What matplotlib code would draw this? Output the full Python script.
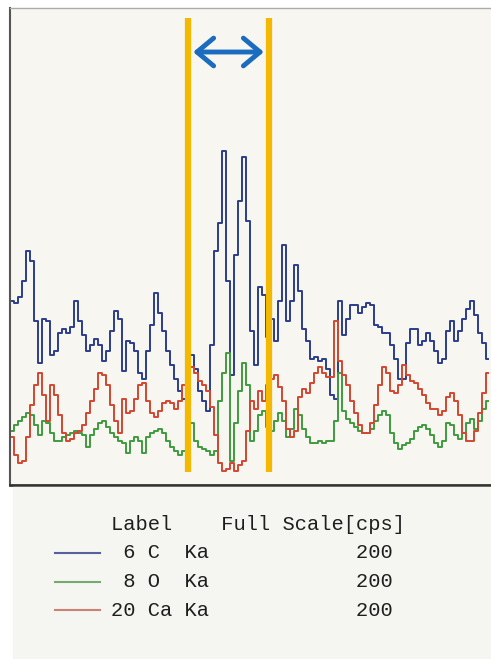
import numpy as np
import matplotlib
matplotlib.use("Agg")
import matplotlib.pyplot as plt
from matplotlib.patches import FancyArrowPatch, Rectangle
from matplotlib.lines import Line2D

# line scan, counts per point (120 points)
c_ka = [92, 91, 94, 102, 117, 112, 82, 61, 83, 82, 65, 67, 76, 78, 76, 79, 92, 82, 75, 67,
        70, 73, 70, 62, 67, 77, 87, 83, 57, 72, 71, 67, 56, 53, 67, 80, 96, 86, 77, 67,
        60, 53, 47, 43, 62, 65, 58, 47, 42, 37, 70, 117, 131, 167, 102, 55, 115, 142, 164, 132,
        77, 60, 99, 95, 74, 83, 72, 92, 120, 82, 92, 110, 97, 78, 72, 63, 64, 62, 63, 58,
        45, 43, 92, 75, 83, 90, 90, 86, 89, 91, 90, 80, 79, 76, 76, 70, 63, 53, 53, 71,
        78, 78, 70, 72, 76, 72, 67, 61, 63, 77, 82, 72, 77, 83, 88, 92, 85, 76, 71, 63]
o_ka = [27, 30, 32, 34, 36, 35, 30, 25, 32, 31, 26, 22, 22, 24, 25, 26, 27, 26, 25, 19,
        25, 28, 31, 32, 29, 26, 24, 22, 21, 16, 22, 24, 22, 16, 24, 26, 27, 28, 26, 22,
        19, 17, 15, 17, 26, 31, 22, 19, 18, 17, 15, 17, 42, 56, 66, 12, 31, 47, 61, 50,
        22, 27, 35, 37, 29, 27, 32, 36, 32, 24, 28, 38, 35, 28, 24, 21, 21, 22, 21, 22,
        22, 32, 56, 37, 33, 31, 29, 27, 26, 26, 28, 32, 35, 37, 35, 26, 21, 18, 20, 21,
        23, 27, 29, 30, 28, 25, 21, 19, 22, 31, 30, 25, 23, 26, 31, 33, 28, 32, 38, 42]
ca_ka = [24, 15, 11, 12, 24, 40, 50, 56, 45, 32, 50, 45, 35, 26, 22, 23, 26, 27, 30, 36,
         42, 48, 56, 55, 50, 40, 32, 26, 43, 36, 37, 43, 50, 51, 42, 36, 34, 37, 41, 42,
         41, 38, 42, 50, 56, 59, 56, 52, 50, 47, 39, 25, 11, 7, 8, 11, 7, 10, 12, 27,
         42, 38, 47, 42, 50, 53, 55, 49, 42, 28, 24, 27, 44, 48, 46, 51, 56, 59, 56, 54,
         54, 82, 62, 55, 50, 42, 36, 30, 26, 26, 31, 40, 50, 59, 56, 47, 46, 50, 60, 55,
         52, 51, 48, 45, 41, 38, 38, 35, 37, 44, 46, 42, 35, 26, 22, 22, 27, 36, 46, 56]

labels = [" 6 C  Ka", " 8 O  Ka", "20 Ca Ka"]
full_scale = [200, 200, 200]
colors = ["#2b3d8c", "#3f9a3f", "#d2472f"]
legend_colors = ["#56619c", "#74ab74", "#c98274"]

# marked region (scan index)
region = [44, 64.25]

fig = plt.figure(figsize=(4.91, 6.59), dpi=100)
W, H = 491, 659

# legend panel background
fig.patches.append(Rectangle((13 / W, 0), 1, (H - 487) / H, transform=fig.transFigure,
                             color="#f5f5f1", zorder=0))

ax = fig.add_axes([10 / W, (H - 485) / H, 481 / W, 477 / H])
ax.set_facecolor("#f7f6f1")

for data, col in zip([c_ka, o_ka, ca_ka], colors):
    ax.plot(np.arange(len(data)), data, drawstyle="steps-mid", color=col, lw=1.4)

ax.set_xlim(-0.5, 119.75)
ax.set_ylim(0, 238.5)
ax.set_xticks([])
ax.set_yticks([])
ax.spines["right"].set_visible(False)
ax.spines["left"].set_color("#555555")
ax.spines["left"].set_linewidth(1.5)
ax.spines["bottom"].set_color("#333333")
ax.spines["bottom"].set_linewidth(2)
ax.spines["top"].set_color("#aaaaaa")
ax.spines["top"].set_linewidth(1)

ax.vlines(region, 6.5, 233.5, color="#f5b800", lw=4.5, zorder=5)
arr = FancyArrowPatch((region[0] + 0.6, 216.5), (region[1] - 0.6, 216.5),
                      arrowstyle="<->,head_length=0.6,head_width=0.5",
                      mutation_scale=20, color="#1b6cbe", lw=3.5,
                      capstyle="round", joinstyle="round", zorder=6)
ax.add_patch(arr)

# legend block below the plot
mono = "Liberation Mono"
fs = 14.7
fig.text(111 / W, 1 - 525 / H, "Label    Full Scale[cps]", family=mono, fontsize=fs,
         va="center", ha="left", color="#1e1e1e")
for k, (lab, fsv) in enumerate(zip(labels, full_scale)):
    yy = 1 - (553 + 28.5 * k) / H
    fig.text(111 / W, yy, lab.ljust(20) + str(fsv), family=mono, fontsize=fs,
             va="center", ha="left", color="#1e1e1e")
    fig.lines.append(Line2D([55 / W, 100 / W], [yy, yy], transform=fig.transFigure,
                            color=legend_colors[k], lw=1.5))

fig.savefig("out.png", dpi=100, facecolor="white")
